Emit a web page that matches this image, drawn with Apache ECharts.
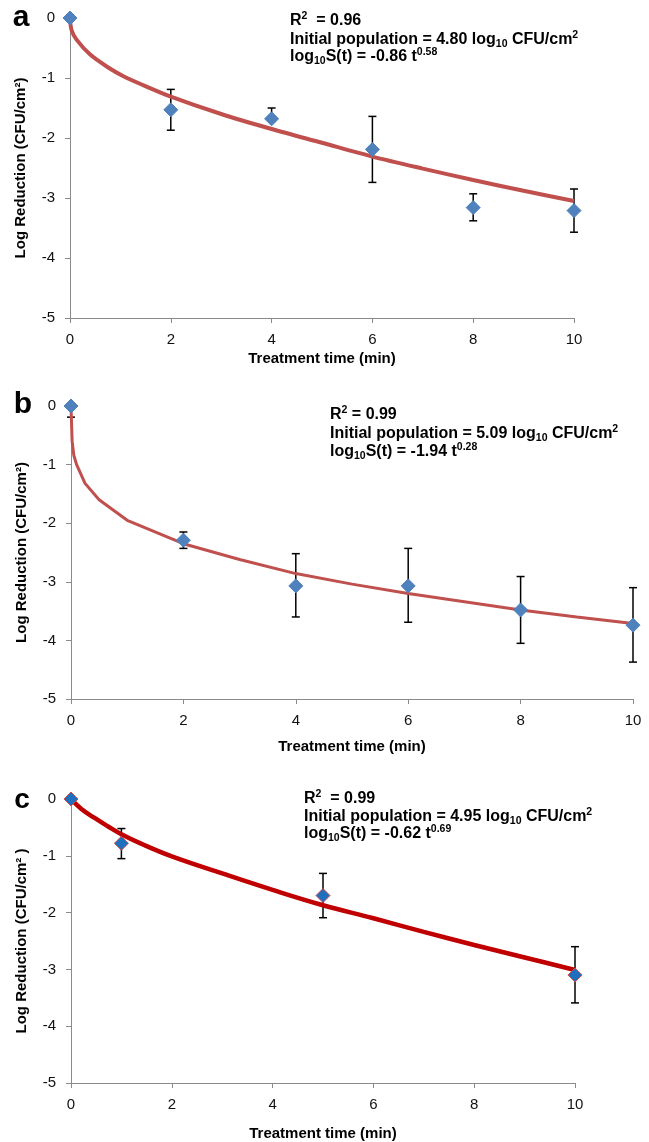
<!DOCTYPE html>
<html>
<head>
<meta charset="utf-8">
<script src="https://cdn.jsdelivr.net/npm/echarts@6/dist/echarts.min.js"></script>
<style>
  html, body { margin: 0; padding: 0; background: #fff; }
  #chart { width: 649px; height: 1142px; }
</style>
</head>
<body>
<div id="chart"></div>
<script>
// ===================================================
//  DATOS
// ===================================================
const xTicks = [0, 2, 4, 6, 8, 10];
const yTicks = [0, -1, -2, -3, -4, -5];

// panel a
const aTime = [0, 2, 4, 6, 8, 10];
const aMean = [0, -1.53, -1.68, -2.19, -3.16, -3.21];
const aLow = [0, -1.87, -1.72, -2.74, -3.38, -3.57];
const aHigh = [0, -1.19, -1.50, -1.64, -2.93, -2.85];
const aFitT = [0, 0.03, 0.13, 0.4, 0.75, 1.06, 1.4, 2, 3, 4, 5, 6, 7, 8, 9, 10];
const aFitY = [0, -0.2, -0.36, -0.61, -0.82, -0.97, -1.1, -1.31, -1.6, -1.85, -2.08, -2.31, -2.51, -2.7, -2.88, -3.05];

// panel b
const bTime = [0, 2, 4, 6, 8, 10];
const bMean = [0, -2.29, -3.07, -3.07, -3.48, -3.74];
const bLow = [-0.19, -2.43, -3.60, -3.69, -4.05, -4.37];
const bHigh = [0, -2.15, -2.52, -2.43, -2.91, -3.10];
const bFitT = [0, 0.02, 0.05, 0.1, 0.25, 0.5, 1, 2, 3, 4, 5, 6, 7, 8, 9, 10];
const bFitY = [0, -0.6, -0.84, -1.0, -1.32, -1.6, -1.95, -2.35, -2.62, -2.86, -3.04, -3.2, -3.34, -3.48, -3.6, -3.71];

// panel c
const cTime = [0, 1, 5, 10];
const cMean = [0, -0.78, -1.70, -3.10];
const cLow = [0, -1.05, -2.09, -3.59];
const cHigh = [0, -0.52, -1.31, -2.60];
const cFitT = [0, 0.2, 0.46, 0.73, 1, 1.4, 2, 3, 4, 5, 6, 7, 8, 9, 10];
const cFitY = [0, -0.17, -0.33, -0.48, -0.62, -0.79, -1.01, -1.31, -1.6, -1.87, -2.1, -2.34, -2.57, -2.79, -3.01];

// textos
const panelLetters = ['a', 'b', 'c'];
const r2Text = ['0.96', '0.99', '0.99'];
const initPop = ['4.80', '5.09', '4.95'];
const coefText = ['-0.86', '-1.94', '-0.62'];
const expText = ['0.58', '0.28', '0.69'];

// ===================================================
//  GRÁFICO
// ===================================================
(function () {
    const el = document.getElementById('chart');
    if (!el || typeof echarts === 'undefined') return;
    const chart = echarts.init(el);

    const F = '"Liberation Sans", Arial, sans-serif';
    const AXIS = '#8a8a8a';

    const grids = [
        { left: 70, top: 18, width: 504, height: 300 },
        { left: 71, top: 406, width: 562, height: 293 },
        { left: 71, top: 799, width: 504, height: 284 }
    ];
    const xNameGap = [33, 40, 43];
    const yNames = ['Log Reduction (CFU/cm\u00B2)', 'Log Reduction (CFU/cm\u00B2)', 'Log Reduction (CFU/cm\u00B2 )'];

    const pair = (xs, ys) => xs.map((x, i) => [x, ys[i]]);
    const triple = (xs, lo, hi) => xs.map((x, i) => [x, lo[i], hi[i]]);

    // barras de error: línea vertical + topes
    function renderErr(params, api) {
        const x = api.value(0);
        const p1 = api.coord([x, api.value(2)]);
        const p2 = api.coord([x, api.value(1)]);
        const w = 4;
        const style = { stroke: '#000', lineWidth: 1.5 };
        return {
            type: 'group',
            children: [
                { type: 'line', shape: { x1: p1[0], y1: p1[1], x2: p2[0], y2: p2[1] }, style: style },
                { type: 'line', shape: { x1: p1[0] - w, y1: p1[1], x2: p1[0] + w, y2: p1[1] }, style: style },
                { type: 'line', shape: { x1: p2[0] - w, y1: p2[1], x2: p2[0] + w, y2: p2[1] }, style: style }
            ]
        };
    }

    const xAxes = grids.map((g, i) => ({
        gridIndex: i, type: 'value', min: xTicks[0], max: xTicks[xTicks.length - 1], interval: 2,
        splitLine: { show: false },
        axisLine: { show: true, onZero: false, lineStyle: { color: AXIS } },
        axisTick: { show: true, length: 5, lineStyle: { color: AXIS } },
        axisLabel: { fontSize: 15, color: '#111', margin: 14, fontFamily: F },
        name: 'Treatment time (min)', nameLocation: 'middle', nameGap: xNameGap[i],
        nameTextStyle: { fontSize: 15, fontWeight: 'bold', color: '#000', fontFamily: F }
    }));

    const yAxes = grids.map((g, i) => ({
        gridIndex: i, type: 'value', min: yTicks[yTicks.length - 1], max: yTicks[0], interval: 1,
        splitLine: { show: false },
        axisLine: { show: true, onZero: false, lineStyle: { color: AXIS } },
        axisTick: { show: true, length: 5, lineStyle: { color: AXIS } },
        axisLabel: { fontSize: 15, color: '#111', margin: 15, fontFamily: F },
        name: yNames[i], nameLocation: 'middle', nameGap: 42,
        nameTextStyle: { fontSize: 15, fontWeight: 'bold', color: '#000', fontFamily: F }
    }));

    const panels = [
        { t: aTime, m: aMean, lo: aLow, hi: aHigh, ft: aFitT, fy: aFitY, line: '#C0504D', lw: 4, smooth: 0.3, dot: '#4F81BD', border: '#4F81BD' },
        { t: bTime, m: bMean, lo: bLow, hi: bHigh, ft: bFitT, fy: bFitY, line: '#C0504D', lw: 3, smooth: false, dot: '#4F81BD', border: '#4F81BD' },
        { t: cTime, m: cMean, lo: cLow, hi: cHigh, ft: cFitT, fy: cFitY, line: '#C00000', lw: 4.5, smooth: 0.4, dot: '#1F6FBF', border: '#D04A4A' }
    ];

    const series = [];
    panels.forEach((p, i) => {
        series.push({
            type: 'custom', xAxisIndex: i, yAxisIndex: i, clip: false, z: 2,
            renderItem: renderErr, encode: { x: 0, y: [1, 2] },
            data: triple(p.t, p.lo, p.hi)
        });
        series.push({
            type: 'line', xAxisIndex: i, yAxisIndex: i, clip: false, z: 3,
            showSymbol: false, smooth: p.smooth,
            lineStyle: { color: p.line, width: p.lw },
            data: pair(p.ft, p.fy)
        });
        series.push({
            type: 'scatter', xAxisIndex: i, yAxisIndex: i, clip: false, z: 4,
            symbol: 'diamond', symbolSize: 14,
            itemStyle: { color: p.dot, borderColor: p.border, borderWidth: 1, opacity: 1 },
            data: pair(p.t, p.m)
        });
    });

    // anotaciones con superíndices / subíndices
    const rich = {
        n: { fontSize: 16, fontWeight: 'bold', fontFamily: F, color: '#000', lineHeight: 20 },
        sup: { fontSize: 10.5, fontWeight: 'bold', fontFamily: F, color: '#000', lineHeight: 12, verticalAlign: 'top' },
        sub: { fontSize: 10.5, fontWeight: 'bold', fontFamily: F, color: '#000', lineHeight: 12, verticalAlign: 'bottom' }
    };
    const annoPos = [
        { x: 290, y: [21, 40, 57] },
        { x: 330, y: [415, 434, 452] },
        { x: 304, y: [799, 817, 834] }
    ];
    const letterPos = [
        { x: 21, y: 18, size: 30 },
        { x: 23, y: 405, size: 30 },
        { x: 22, y: 800, size: 28 }
    ];

    const graphic = [];
    annoPos.forEach((a, i) => {
        const sp = i === 1 ? ' = ' : '  = ';
        const lines = [
            '{n|R}{sup|2}{n|' + sp + r2Text[i] + '}',
            '{n|Initial population = ' + initPop[i] + ' log}{sub|10}{n| CFU/cm}{sup|2}',
            '{n|log}{sub|10}{n|S(t) = ' + coefText[i] + ' t}{sup|' + expText[i] + '}'
        ];
        lines.forEach((txt, k) => {
            graphic.push({
                type: 'text', z: 10,
                x: a.x, y: a.y[k],
                style: { text: txt, rich: rich, align: 'left', verticalAlign: 'middle' }
            });
        });
        const L = letterPos[i];
        graphic.push({
            type: 'text', z: 10, x: L.x, y: L.y,
            style: {
                text: panelLetters[i], fontSize: L.size, fontWeight: 'bold', fontFamily: F,
                fill: '#000', align: 'center', verticalAlign: 'middle'
            }
        });
    });

    chart.setOption({
        animation: false,
        backgroundColor: '#fff',
        grid: grids,
        xAxis: xAxes,
        yAxis: yAxes,
        series: series,
        graphic: graphic
    });
})();
</script>
</body>
</html>
